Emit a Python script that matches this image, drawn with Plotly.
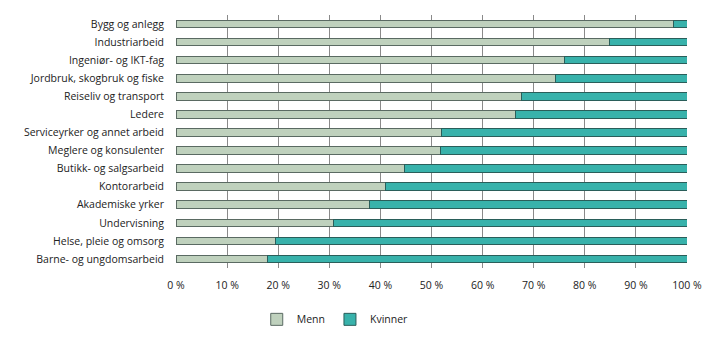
import plotly.graph_objects as go

categories = ["Bygg og anlegg", "Industriarbeid", "Ingeniør- og IKT-fag",
              "Jordbruk, skogbruk og fiske", "Reiseliv og transport", "Ledere",
              "Serviceyrker og annet arbeid", "Meglere og konsulenter",
              "Butikk- og salgsarbeid", "Kontorarbeid", "Akademiske yrker",
              "Undervisning", "Helse, pleie og omsorg", "Barne- og ungdomsarbeid"]
menn = [97.3, 84.9, 76.0, 74.2, 67.7, 66.5, 52.0, 51.7, 44.8, 40.9, 37.8, 30.9, 19.4, 17.9]
kvinner = [round(100 - m, 1) for m in menn]
tick_vals = list(range(0, 101, 10))
tick_text = [f"{v} %" for v in tick_vals]

font = "Open Sans"
fig = go.Figure()
fig.add_trace(go.Bar(y=categories, x=menn, name="Menn", orientation="h",
                     marker=dict(color="#bfd1bd", line=dict(color="#5a6a62", width=1))))
fig.add_trace(go.Bar(y=categories, x=kvinner, name="Kvinner", orientation="h",
                     marker=dict(color="#38b2ab", line=dict(color="#2a5e5a", width=1))))

fig.update_layout(
    barmode="stack", bargap=0.58,
    width=723, height=341,
    margin=dict(l=176, r=36, t=15, b=73, autoexpand=False),
    paper_bgcolor="white", plot_bgcolor="white",
    font=dict(family=font, size=10.5, color="#222"),
    legend=dict(orientation="h", x=0.158, xref="paper", y=-0.203, yanchor="middle",
                xanchor="left", font=dict(size=10.5), traceorder="normal",
                itemwidth=30, tracegroupgap=0),
    xaxis=dict(range=[0, 100], tickvals=tick_vals, ticktext=tick_text,
               showgrid=True, gridcolor="#8a8a8a", gridwidth=1,
               ticks="", ticklabelstandoff=9, automargin=False,
               zeroline=False, showline=False, fixedrange=True),
    yaxis=dict(categoryorder="array", categoryarray=categories[::-1],
               showgrid=False, ticks="", ticklabelstandoff=11, automargin=False,
               showline=False, fixedrange=True),
)
fig.write_html("out.html")
